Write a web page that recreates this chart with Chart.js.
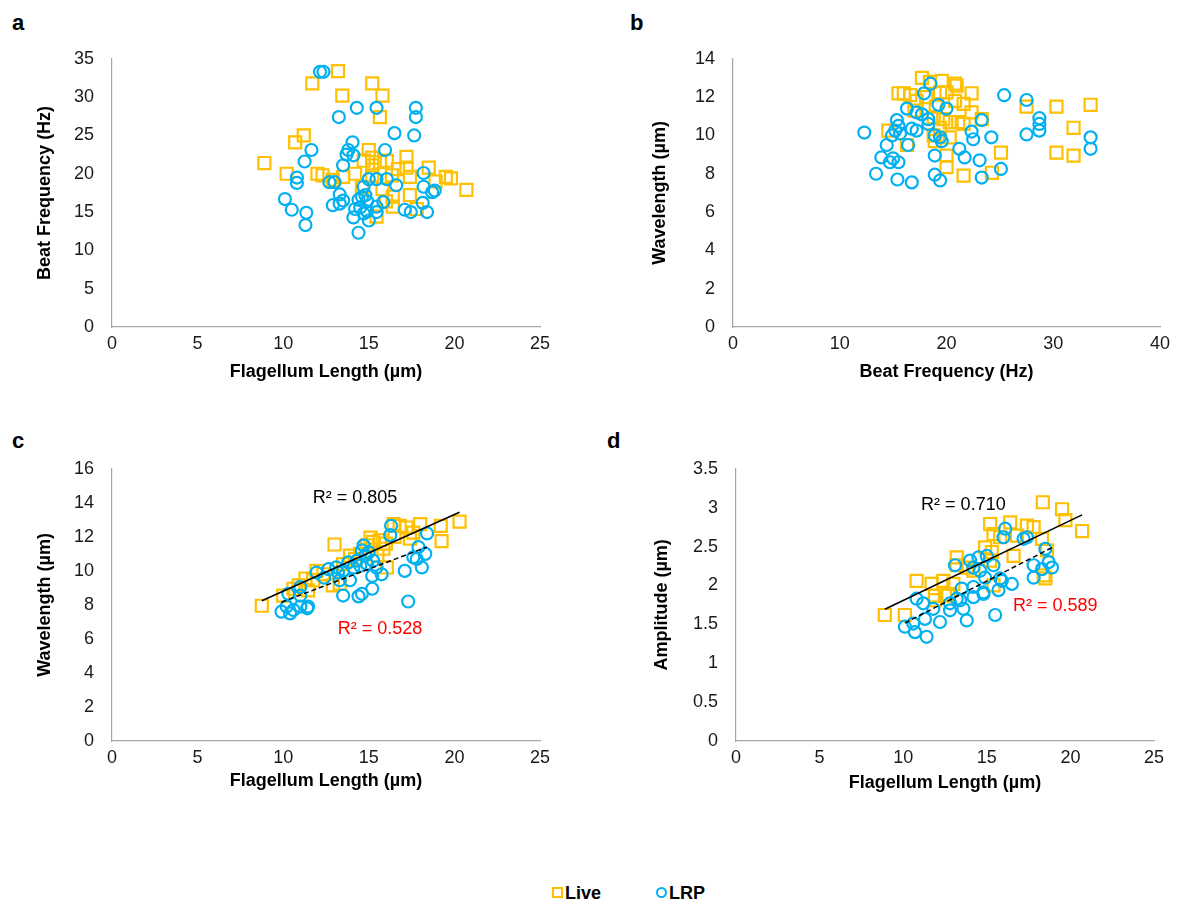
<!DOCTYPE html>
<html>
<head>
<meta charset="utf-8">
<script src="https://cdn.jsdelivr.net/npm/chart.js@4/dist/chart.umd.min.js"></script>
<style>
  body { margin: 0; background: #fff; width: 1184px; height: 911px; position: relative; overflow: hidden;
         font-family: "Liberation Sans", Arial, sans-serif; }
  canvas { position: absolute; }
  .tag { position: absolute; font-weight: bold; font-size: 22px; line-height: 1; color: #000; }
  .legend { position: absolute; top: 883px; font-weight: bold; font-size: 18px; line-height: 20px; color: #000; }
  .legend span.mk { display: inline-block; width: 7px; height: 7px; vertical-align: 1px; margin-right: 2px; }
</style>
</head>
<body>
<div class="tag" style="left:12px;top:12px">a</div>
<div class="tag" style="left:630px;top:12px">b</div>
<div class="tag" style="left:12px;top:430px">c</div>
<div class="tag" style="left:607px;top:430px">d</div>

<canvas id="chartA" width="580" height="370" style="left:0;top:30px"></canvas>
<canvas id="chartB" width="584" height="370" style="left:600px;top:30px"></canvas>
<canvas id="chartC" width="580" height="370" style="left:0;top:440px"></canvas>
<canvas id="chartD" width="584" height="370" style="left:600px;top:440px"></canvas>

<div class="legend" style="left:552px"><span class="mk" style="border:2px solid #FFC000"></span>Live</div>
<div class="legend" style="left:656px"><span class="mk" style="border:2px solid #00B0F0;border-radius:50%"></span>LRP</div>

<script>
// ---- data ----
// panel a: flagellum length (µm) vs beat frequency (Hz)
const aLive = [[13.2,33.4],[11.7,31.8],[15.2,31.8],[13.45,30.2],[15.8,30.2],[15.65,27.4],[11.2,25.0],[10.7,24.1],
  [8.9,21.4],[15.0,23.1],[15.2,22.1],[17.2,22.2],[18.5,20.8],[10.2,20.0],[12.0,20.0],[12.3,19.8],[19.5,19.6],
  [19.8,19.4],[20.7,17.9],[13.5,19.6],[14.2,20.0],[17.4,19.6],[16.4,17.0],[17.4,17.2],[16.4,15.7],[15.45,14.4],
  [17.8,15.4],[14.7,21.7],[15.2,21.1],[15.65,21.5],[16.05,21.7],[16.7,20.6],[17.2,20.8],[15.2,19.8],[16.35,19.8],
  [14.6,18.2],[15.8,18.0],[12.9,19.2],[18.9,19.0],[16.0,16.4]];
const aLRP = [[12.15,33.3],[12.35,33.3],[14.3,28.6],[15.45,28.6],[17.75,28.6],[17.75,27.4],[13.25,27.4],[16.5,25.3],
  [17.65,25.0],[14.05,24.1],[11.65,23.1],[15.95,23.1],[13.8,23.1],[13.7,22.5],[14.1,22.4],[11.25,21.6],[13.5,21.1],
  [18.2,20.1],[10.8,19.5],[10.8,18.8],[12.7,18.9],[13.0,18.9],[15.0,19.3],[15.45,19.3],[16.05,19.3],[16.6,18.5],
  [14.7,18.3],[18.2,18.3],[18.7,17.6],[18.85,17.8],[13.3,17.3],[10.1,16.7],[10.5,15.3],[11.35,14.9],[11.3,13.3],
  [12.9,15.9],[13.3,16.1],[13.5,16.5],[14.4,16.6],[14.6,17.0],[14.8,17.2],[14.9,16.4],[14.2,15.4],[14.5,15.6],
  [14.1,14.3],[14.7,14.8],[14.9,15.1],[15.0,13.9],[15.45,15.7],[15.45,15.0],[15.85,16.3],[14.4,12.3],[17.1,15.3],
  [17.45,15.0],[18.15,16.2],[18.4,15.0]];

// panel b: beat frequency (Hz) vs wavelength (µm)
const bLive = [[17.7,13.0],[18.45,12.8],[19.55,12.85],[20.8,12.7],[20.95,12.6],[15.5,12.2],[16.0,12.2],[16.6,12.1],
  [19.4,12.25],[20.0,12.25],[22.35,12.2],[17.2,11.8],[18.1,12.0],[21.6,11.65],[20.8,11.8],[27.5,11.5],[30.3,11.5],
  [33.5,11.6],[22.35,11.2],[31.9,10.4],[18.8,10.95],[19.7,10.85],[20.3,10.7],[21.1,10.7],[21.6,10.6],[19.4,10.4],
  [23.3,10.85],[14.55,10.25],[18.8,10.0],[20.3,9.9],[16.3,9.5],[18.9,9.7],[20.0,8.95],[20.0,8.35],[25.1,9.1],
  [30.3,9.1],[31.9,8.95],[21.6,7.9],[24.25,8.05],[17.0,11.3],[19.0,11.5]];
const bLRP = [[18.5,12.7],[17.9,12.2],[25.4,12.1],[27.5,11.85],[19.25,11.6],[20.0,11.4],[16.3,11.4],[17.2,11.2],
  [17.7,11.1],[18.3,10.85],[18.3,10.6],[23.3,10.8],[28.7,10.9],[28.7,10.6],[28.7,10.25],[15.35,10.8],[15.5,10.5],
  [15.2,10.25],[15.65,10.1],[14.9,10.0],[16.75,10.35],[17.2,10.25],[12.3,10.15],[22.35,10.2],[22.5,9.8],[24.2,9.9],
  [27.5,10.05],[33.5,9.9],[33.5,9.3],[18.9,10.0],[19.4,9.9],[19.55,9.7],[14.4,9.5],[16.4,9.5],[13.9,8.85],
  [14.7,8.6],[15.0,8.8],[15.5,8.6],[18.9,8.95],[21.2,9.3],[21.7,8.85],[23.1,8.7],[25.1,8.25],[13.4,8.0],
  [18.9,7.95],[15.4,7.7],[16.75,7.55],[19.4,7.65],[23.3,7.8]];

// panel c: flagellum length (µm) vs wavelength (µm)
const cLive = [[20.3,12.9],[19.2,12.65],[18.0,12.75],[19.25,11.75],[16.8,12.65],[17.2,12.55],[16.45,12.75],
  [17.6,12.25],[17.4,11.9],[13.0,11.55],[15.1,11.95],[15.25,11.7],[15.65,11.8],[14.9,11.5],[15.85,11.3],
  [13.9,10.9],[14.2,10.7],[13.5,10.4],[16.05,10.2],[11.95,10.0],[12.35,9.8],[11.3,9.55],[11.75,9.45],[10.9,9.15],
  [10.6,8.95],[11.45,8.85],[10.0,8.55],[8.75,7.95],[13.3,9.25],[12.9,9.15],[16.0,11.6],[16.5,12.0],[14.5,11.0],
  [15.5,10.9]];
const cLRP = [[16.3,12.65],[16.25,12.1],[18.4,12.2],[17.9,11.4],[17.6,10.8],[18.3,11.0],[17.8,10.7],[17.1,10.0],
  [18.1,10.2],[14.7,11.5],[14.6,11.2],[17.3,8.2],[11.95,9.9],[12.65,10.1],[13.1,10.2],[13.5,10.0],[14.1,10.2],
  [14.5,10.3],[14.9,10.4],[15.25,10.6],[15.45,10.2],[15.2,9.7],[15.75,9.8],[13.3,9.45],[13.9,9.45],[15.2,8.95],
  [14.6,8.65],[14.4,8.5],[13.5,8.55],[11.0,9.05],[10.3,8.65],[11.45,7.9],[11.0,7.9],[9.9,7.6],[10.4,7.5],
  [10.6,7.7],[11.4,7.8],[10.2,7.9],[11.0,8.55],[13.8,10.5],[14.3,10.6],[14.8,10.9],[15.0,11.1],[13.2,9.9],[12.4,9.6]];

// panel d: flagellum length (µm) vs amplitude (µm)
const dLive = [[18.35,3.07],[19.5,2.98],[20.7,2.7],[19.7,2.84],[15.2,2.79],[16.4,2.81],[17.4,2.77],[17.8,2.75],
  [18.3,2.6],[18.6,2.45],[15.4,2.66],[15.8,2.62],[16.8,2.64],[14.9,2.49],[15.3,2.43],[16.6,2.38],[15.2,2.32],
  [13.2,2.36],[13.2,2.26],[13.8,2.23],[14.2,2.19],[12.4,2.06],[13.0,2.02],[11.7,2.02],[10.8,2.06],[18.4,2.13],
  [18.5,2.09],[15.4,2.0],[11.9,1.87],[12.7,1.89],[8.9,1.62],[10.1,1.62],[11.9,1.81],[12.5,1.87]];
const dLRP = [[16.1,2.73],[16.0,2.62],[17.4,2.62],[17.2,2.6],[18.5,2.47],[18.7,2.3],[18.3,2.21],[17.8,2.26],
  [18.9,2.23],[17.8,2.1],[14.0,2.32],[14.5,2.36],[15.0,2.38],[15.4,2.26],[14.2,2.23],[14.6,2.19],[14.9,2.1],
  [13.1,2.26],[16.5,2.02],[15.9,2.06],[15.7,1.94],[13.5,1.96],[14.2,1.98],[14.8,1.89],[10.8,1.83],[11.2,1.77],
  [11.8,1.7],[12.8,1.77],[13.4,1.81],[15.5,1.62],[10.1,1.47],[10.6,1.51],[10.7,1.40],[11.4,1.34],[11.3,1.57],
  [12.2,1.53],[12.8,1.68],[13.6,1.70],[13.8,1.55],[13.2,1.83],[14.2,1.85],[14.8,1.91],[15.8,2.09]];

// tick labels
const lengthTicks = [0, 5, 10, 15, 20, 25];
const freqTicksY = [0, 5, 10, 15, 20, 25, 30, 35];
const freqTicksX = [0, 10, 20, 30, 40];
const waveTicksB = [0, 2, 4, 6, 8, 10, 12, 14];
const waveTicksC = [0, 2, 4, 6, 8, 10, 12, 14, 16];
const ampTicks = [0, 0.5, 1, 1.5, 2, 2.5, 3, 3.5];

const r2Labels = { c: ['R² = 0.805', 'R² = 0.528'], d: ['R² = 0.710', 'R² = 0.589'] };

const YELLOW = '#FFC000', BLUE = '#00B0F0';
const FONT = '"Liberation Sans", Arial, sans-serif';
const LH = 18 * 1.2;

// least squares line drawn across the series' own x range
function trend(pts) {
  const n = pts.length;
  let sx = 0, sy = 0, sxx = 0, sxy = 0;
  pts.forEach(([x, y]) => { sx += x; sy += y; sxx += x * x; sxy += x * y; });
  const m = (n * sxy - sx * sy) / (n * sxx - sx * sx);
  const b = (sy - m * sx) / n;
  const xs = pts.map(p => p[0]);
  const x0 = Math.min(...xs), x1 = Math.max(...xs);
  return [{ x: x0, y: m * x0 + b }, { x: x1, y: m * x1 + b }];
}

const notePlugin = {
  id: 'notes',
  afterDatasetsDraw(chart, args, opts) {
    const { ctx, scales: { x, y } } = chart;
    (opts.items || []).forEach(n => {
      ctx.save();
      ctx.font = '18px ' + FONT;
      ctx.fillStyle = n.color;
      ctx.textAlign = 'center';
      ctx.textBaseline = 'middle';
      ctx.fillText(n.text, x.getPixelForValue(n.x), y.getPixelForValue(n.y));
      ctx.restore();
    });
  }
};

function makeChart(id, c) {
  const datasets = [];
  if (c.fits) {
    datasets.push({ data: trend(c.live), showLine: true, pointRadius: 0, borderColor: '#000', borderWidth: 1.5 });
    datasets.push({ data: trend(c.lrp), showLine: true, pointRadius: 0, borderColor: '#000', borderWidth: 1.5, borderDash: [5, 3] });
  }
  datasets.push({ label: 'LRP', data: c.lrp.map(([x, y]) => ({ x, y })), pointStyle: 'circle', pointRadius: 6,
    borderColor: BLUE, backgroundColor: 'rgba(0,0,0,0)', borderWidth: 2.2 });
  datasets.push({ label: 'Live', data: c.live.map(([x, y]) => ({ x, y })), pointStyle: 'rect', pointRadius: 8.5,
    borderColor: YELLOW, backgroundColor: 'rgba(0,0,0,0)', borderWidth: 2.2 });

  const bx = c.box, p = c.plot;
  const axis = (ticks, min, max, title, isX) => ({
    type: 'linear', min, max,
    afterBuildTicks: s => { s.ticks = ticks.map(v => ({ value: v })); },
    afterFit: s => { if (isX) s.height = bx.top + bx.h - p.b; else s.width = p.l - bx.left; },
    grid: { display: false, drawTicks: false },
    border: { display: true, color: '#A6A6A6', width: 1.2 },
    ticks: { color: '#1a1a1a', font: { size: 18, family: FONT }, padding: isX ? 6 : 18,
      callback: v => String(v), autoSkip: false, maxRotation: 0 },
    title: { display: true, text: title, color: '#000', font: { size: 18, weight: 'bold', family: FONT },
      padding: isX ? { top: 0, bottom: bx.top + bx.h - c.xTitleY - LH / 2 }
                   : { top: c.yTitleX - bx.left - LH / 2, bottom: 0 } }
  });

  return new Chart(document.getElementById(id), {
    type: 'scatter',
    data: { datasets },
    plugins: [notePlugin],
    options: {
      responsive: false, animation: false, devicePixelRatio: 1,
      layout: { padding: { left: 0, top: p.t - bx.top, right: bx.left + bx.w - p.r, bottom: 0 } },
      plugins: { legend: { display: false }, tooltip: { enabled: false }, notes: { items: c.notes || [] } },
      scales: {
        x: axis(c.xTicks, c.xTicks[0], c.xTicks[c.xTicks.length - 1], c.xTitle, true),
        y: axis(c.yTicks, c.yTicks[0], c.yTicks[c.yTicks.length - 1], c.yTitle, false)
      }
    }
  });
}

makeChart('chartA', {
  box: { left: 0, top: 30, w: 580, h: 370 }, plot: { l: 112, r: 540, t: 58, b: 327 },
  xTitleY: 372, yTitleX: 45, xTicks: lengthTicks, yTicks: freqTicksY,
  xTitle: 'Flagellum Length (µm)', yTitle: 'Beat Frequency (Hz)', live: aLive, lrp: aLRP
});
makeChart('chartB', {
  box: { left: 600, top: 30, w: 584, h: 370 }, plot: { l: 733, r: 1160, t: 58, b: 327 },
  xTitleY: 372, yTitleX: 660, xTicks: freqTicksX, yTicks: waveTicksB,
  xTitle: 'Beat Frequency (Hz)', yTitle: 'Wavelength (µm)', live: bLive, lrp: bLRP
});
makeChart('chartC', {
  box: { left: 0, top: 440, w: 580, h: 370 }, plot: { l: 112, r: 540, t: 468, b: 741 },
  xTitleY: 781, yTitleX: 45, xTicks: lengthTicks, yTicks: waveTicksC,
  xTitle: 'Flagellum Length (µm)', yTitle: 'Wavelength (µm)', live: cLive, lrp: cLRP, fits: true,
  notes: [{ x: 14.2, y: 14.3, text: r2Labels.c[0], color: '#000' }, { x: 15.65, y: 6.56, text: r2Labels.c[1], color: '#FF0000' }]
});
makeChart('chartD', {
  box: { left: 600, top: 440, w: 584, h: 370 }, plot: { l: 736, r: 1154, t: 468, b: 741 },
  xTitleY: 783, yTitleX: 662, xTicks: lengthTicks, yTicks: ampTicks,
  xTitle: 'Flagellum Length (µm)', yTitle: 'Amplitude (µm)', live: dLive, lrp: dLRP, fits: true,
  notes: [{ x: 13.6, y: 3.03, text: r2Labels.d[0], color: '#000' }, { x: 19.1, y: 1.73, text: r2Labels.d[1], color: '#FF0000' }]
});
</script>
</body>
</html>
